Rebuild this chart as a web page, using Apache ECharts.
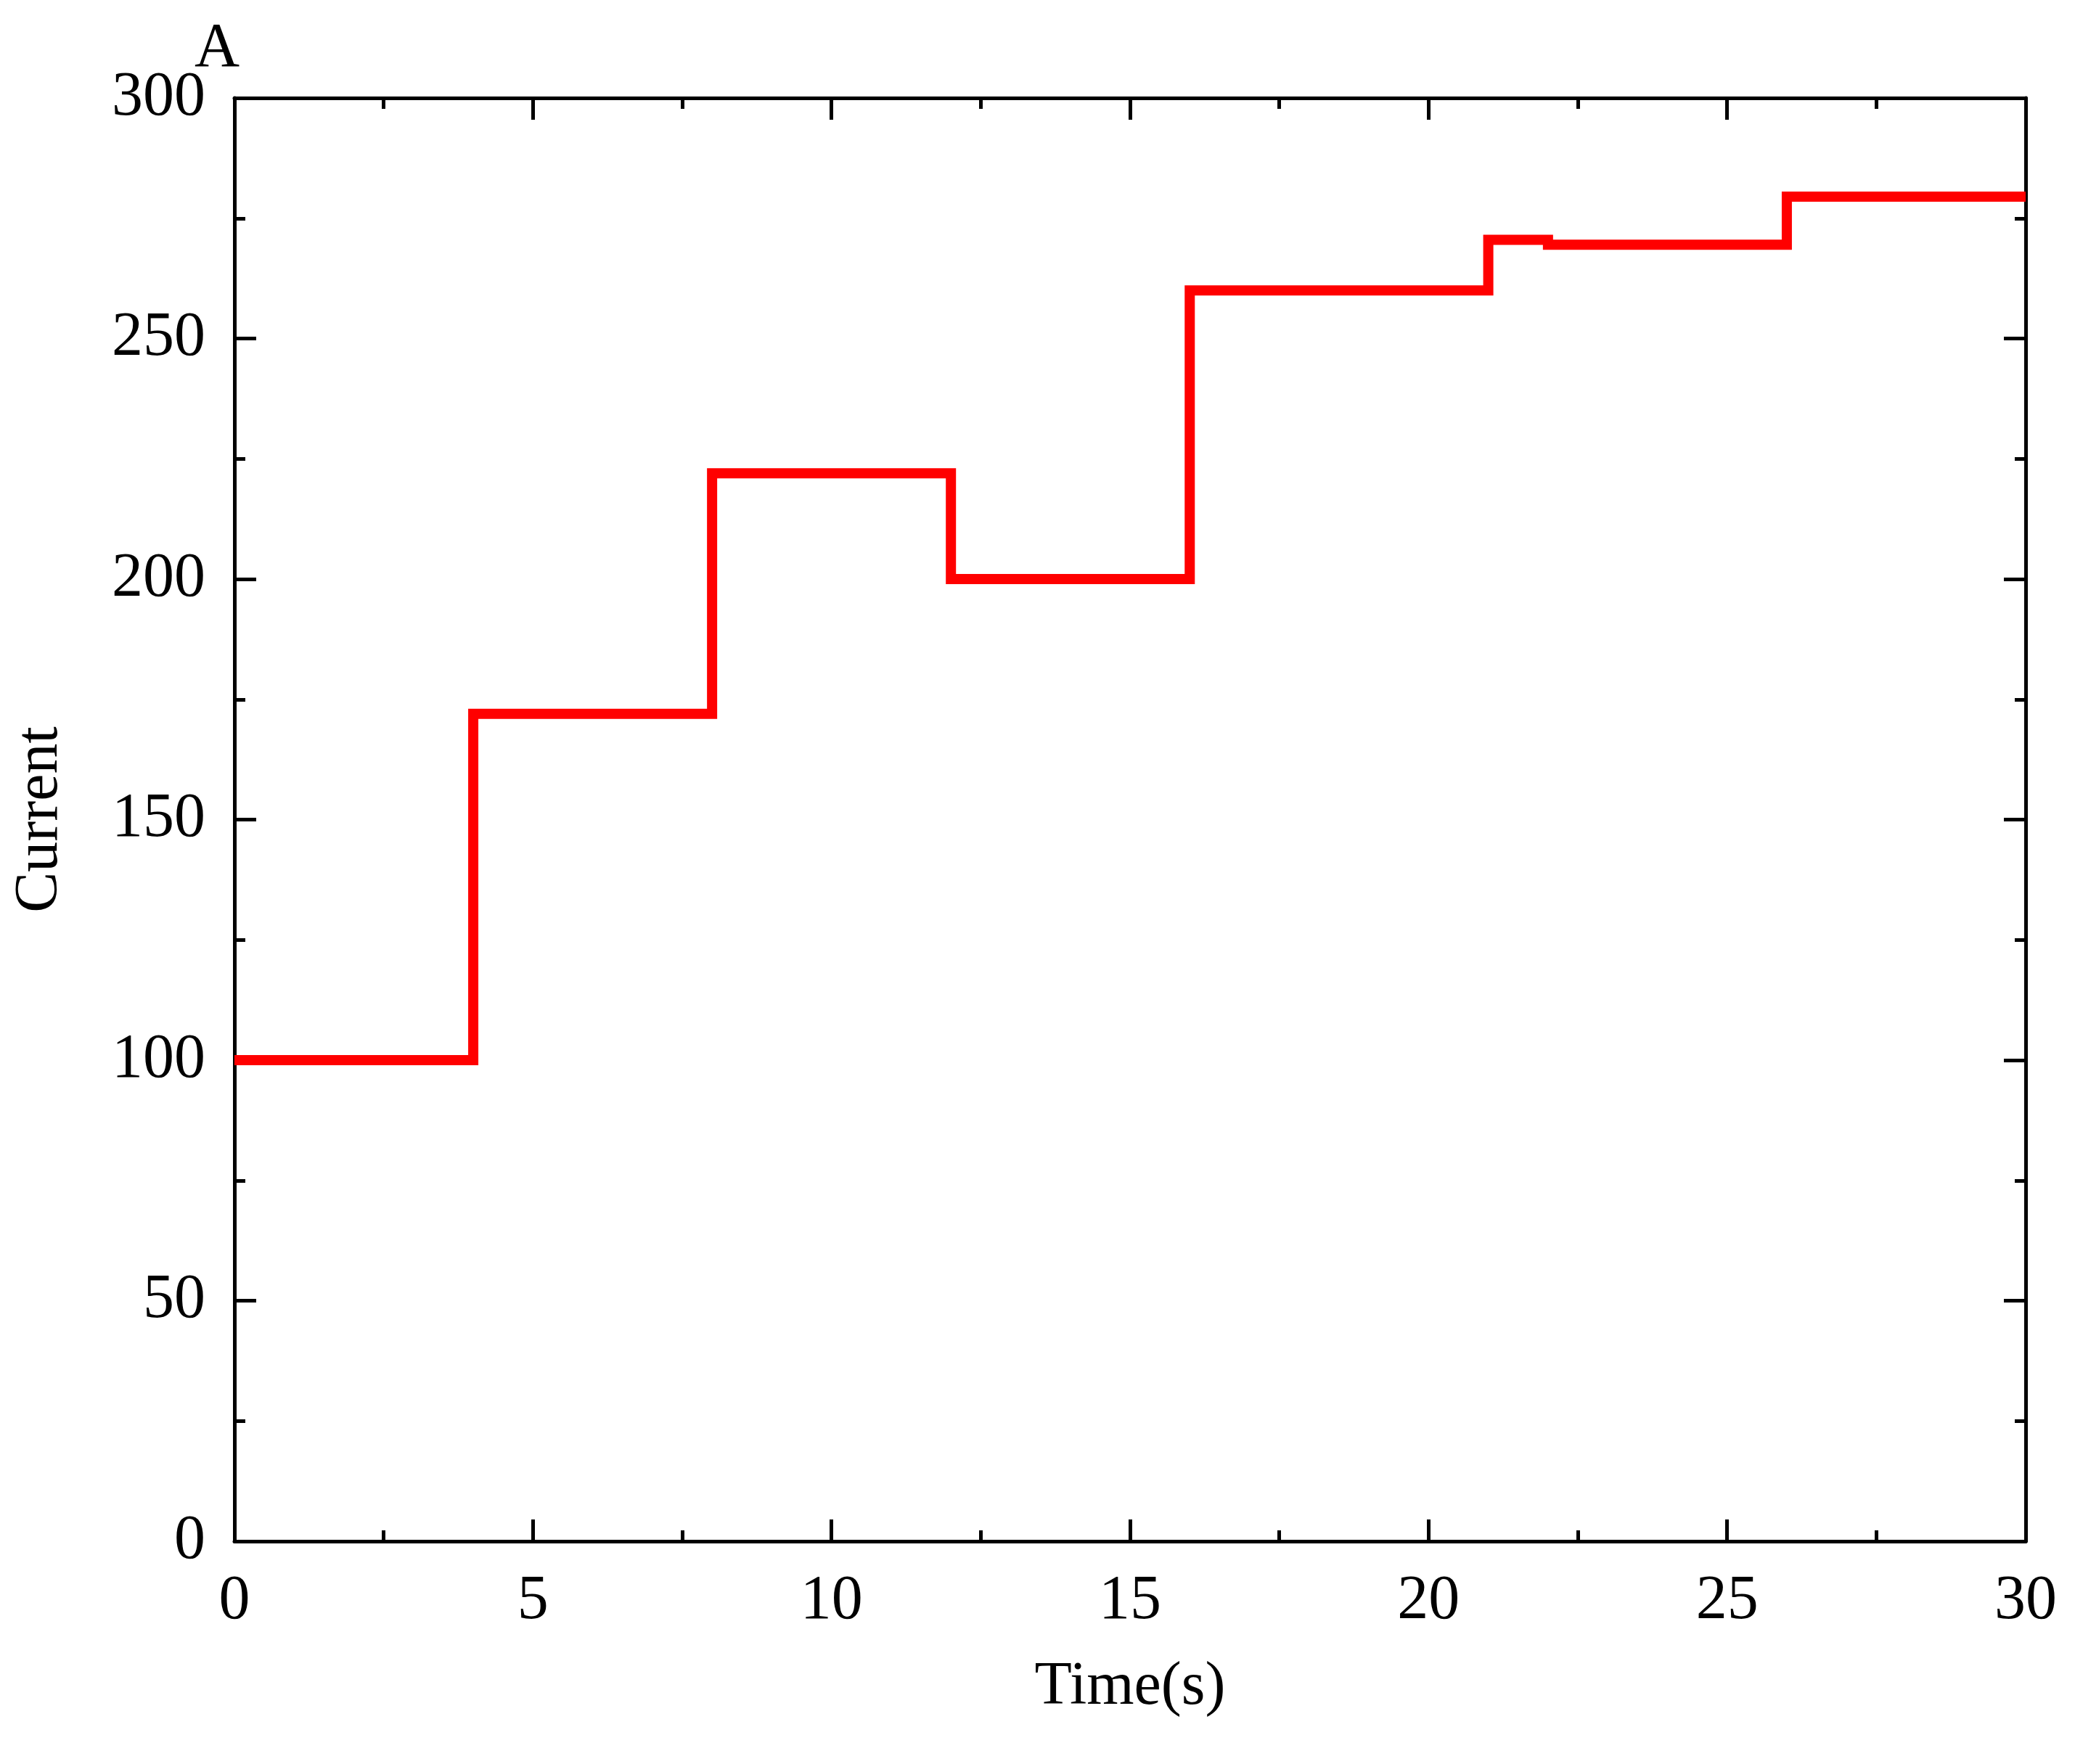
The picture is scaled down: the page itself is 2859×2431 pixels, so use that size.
<!DOCTYPE html><html><head><meta charset="utf-8"><script src="https://cdn.jsdelivr.net/npm/echarts@6/dist/echarts.min.js"></script>
<style>html,body{margin:0;background:#fff}#c{width:2859px;height:2431px}</style></head><body><div id="c"></div><script>
const times=[0,4,8,12,16,21,22,26,30];
const currents=[100,172,222,200,260,270.5,269.5,279.5,279.5];
const xTicks=[0,5,10,15,20,25,30];
const yTicks=[0,50,100,150,200,250,300];
const F='Liberation Serif';
function ax(){return {axisLine:{onZero:false,lineStyle:{color:'#000',width:5}},axisTick:{inside:true,length:30,lineStyle:{color:'#000',width:5}},minorTick:{show:true,splitNumber:2,length:15,lineStyle:{color:'#000',width:5}},splitLine:{show:false}};}
const c=echarts.init(document.getElementById('c'));
c.setOption({animation:false,
grid:{left:323,right:68,top:135,bottom:307},
xAxis:[Object.assign({type:'value',min:0,max:30,interval:5,name:'Time(s)',nameLocation:'middle',nameGap:160,nameTextStyle:{fontFamily:F,fontSize:84,color:'#000'},axisLabel:{fontFamily:F,fontSize:86,color:'#000',margin:40}},ax()),
 Object.assign({type:'value',position:'top',min:0,max:30,interval:5,axisLabel:{show:false}},ax())],
yAxis:[Object.assign({type:'value',min:0,max:300,interval:50,name:'Current',nameLocation:'middle',nameGap:225,nameTextStyle:{fontFamily:F,fontSize:84,color:'#000'},axisLabel:{fontFamily:F,fontSize:86,color:'#000',margin:40}},ax()),
 Object.assign({type:'value',position:'right',min:0,max:300,interval:50,axisLabel:{show:false}},ax())],
graphic:[{type:'text',left:268,top:25,style:{text:'A',font:'86px "Liberation Serif"',fill:'#000'}}],
series:[{type:'line',step:'end',showSymbol:false,data:times.map((t,i)=>[t,currents[i]]),lineStyle:{color:'#ff0000',width:14,join:'miter'},itemStyle:{color:'#ff0000'}}]});
</script></body></html>
